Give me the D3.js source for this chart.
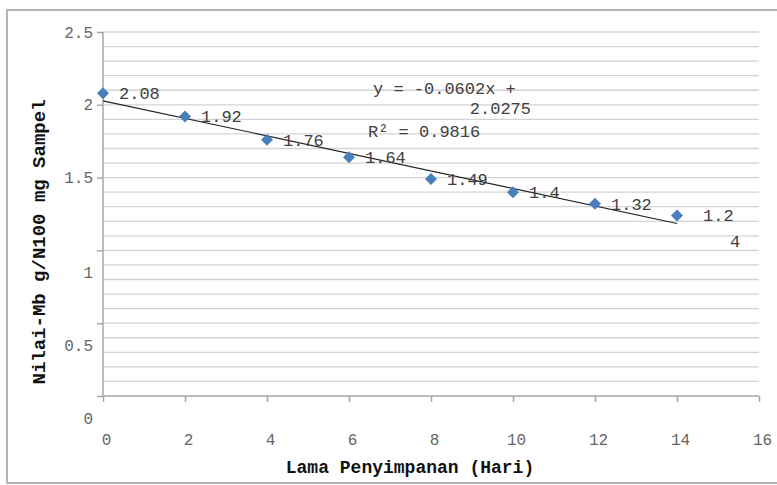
<!DOCTYPE html>
<html><head><meta charset="utf-8">
<script src="https://cdn.jsdelivr.net/npm/d3@7"></script>
<style>body{margin:0;background:#fff;} text{font-family:"Liberation Mono","Courier New",monospace;}</style>
</head><body>
<svg id="c" width="777" height="485"></svg>
<script>
const days = [0, 2, 4, 6, 8, 10, 12, 14];
const values = [2.08, 1.92, 1.76, 1.64, 1.49, 1.4, 1.32, 1.24];
const labels = ["2.08", "1.92", "1.76", "1.64", "1.49", "1.4", "1.32", "1.24"];
const xTicks = [0, 2, 4, 6, 8, 10, 12, 14, 16];
const yTicks = [0, 0.5, 1, 1.5, 2, 2.5];
const slope = -0.0602, intercept = 2.0275, r2 = 0.9816;
const xTitle = "Lama Penyimpanan (Hari)";
const yTitle = "Nilai-Mb g/N100 mg Sampel";

const svg = d3.select("#c");
const x = d3.scaleLinear().domain([0, 16]).range([103, 759]);
const y = d3.scaleLinear().domain([0, 2.5]).range([396, 32]);

// outer border
svg.append("rect").attr("x", 7).attr("y", 10).attr("width", 780).attr("height", 473)
  .attr("fill", "#fff").attr("stroke", "#b5b5b5").attr("stroke-width", 2);

// gridlines every 0.1
const grid = d3.range(1, 26).map(i => i / 10);
svg.append("g").selectAll("line").data(grid).join("line")
  .attr("x1", x(0)).attr("x2", x(16))
  .attr("y1", d => y(d)).attr("y2", d => y(d))
  .attr("stroke", "#d3d3d3").attr("stroke-width", 1.3);

// y axis
const yAx = svg.append("g").attr("transform", `translate(${x(0)},0)`)
  .call(d3.axisLeft(y).tickValues(yTicks).tickSize(6).tickFormat(d => String(d)));
yAx.select(".domain").attr("stroke", "#a6a6a6").attr("stroke-width", 1.5).attr("d", `M0,${y(0)}V${y(2.5)}`);
yAx.selectAll(".tick line").attr("stroke", "#a6a6a6").attr("stroke-width", 1.5);
yAx.selectAll(".tick text").attr("x", -10).attr("font-size", 16).attr("fill", "#666")
  .style("font-family", "'Liberation Mono',monospace")
  .attr("dy", d => d <= 1 ? "1.7em" : "0.32em");

// x axis
const xAx = svg.append("g").attr("transform", `translate(0,${y(0)})`)
  .call(d3.axisBottom(x).tickValues(xTicks).tickSize(6).tickFormat(d => String(d)));
xAx.select(".domain").attr("stroke", "#a6a6a6").attr("stroke-width", 1.5).attr("d", `M${x(0)},0H${x(16)}`);
xAx.selectAll(".tick line").attr("stroke", "#a6a6a6").attr("stroke-width", 1.5);
xAx.selectAll(".tick text").attr("y", 38).attr("dx", 3).attr("font-size", 16).attr("fill", "#666")
  .style("font-family", "'Liberation Mono',monospace");

// trendline
svg.append("line").attr("x1", x(0)).attr("y1", y(intercept))
  .attr("x2", x(14)).attr("y2", y(intercept + slope * 14))
  .attr("stroke", "#222").attr("stroke-width", 1.2);

// markers (square diamonds)
svg.append("g").selectAll("path").data(days).join("path")
  .attr("d", d3.symbol(d3.symbolSquare, 72))
  .attr("transform", (d, i) => `translate(${x(d)},${y(values[i])}) rotate(45)`)
  .attr("fill", "#4a7ebb");

// data labels
const lg = svg.append("g").attr("font-size", 17).attr("fill", "#404040");
days.forEach((d, i) => {
  if (i < days.length - 1) {
    lg.append("text").attr("x", x(d) + 16).attr("y", y(values[i])).attr("dy", "0.35em").text(labels[i]);
  } else {
    const t = lg.append("text").attr("x", x(d) + 26).attr("y", y(values[i])).attr("dy", "0.35em");
    t.append("tspan").text(labels[i].slice(0, 3));
    t.append("tspan").attr("x", x(d) + 26 + 27).attr("dy", "1.5em").text(labels[i].slice(3));
  }
});

// equation
const eq = svg.append("g").attr("font-size", 17).attr("fill", "#404040");
eq.append("text").attr("x", 373).attr("y", 88).attr("dy", "0.35em").text(`y = ${slope}x +`);
eq.append("text").attr("x", 531).attr("y", 108).attr("dy", "0.35em").attr("text-anchor", "end").text(String(intercept));
eq.append("text").attr("x", 368).attr("y", 131).attr("dy", "0.35em").text(`R² = ${r2}`);

// axis titles
svg.append("text").attr("x", 410).attr("y", 467).attr("dy", "0.35em").attr("text-anchor", "middle")
  .attr("font-size", 18).attr("font-weight", "bold").attr("fill", "#111").text(xTitle);
svg.append("text").attr("transform", "translate(38,242) rotate(-90)").attr("dy", "0.35em").attr("text-anchor", "middle")
  .attr("font-size", 19).attr("font-weight", "bold").attr("fill", "#111").text(yTitle);
</script>
</body></html>
